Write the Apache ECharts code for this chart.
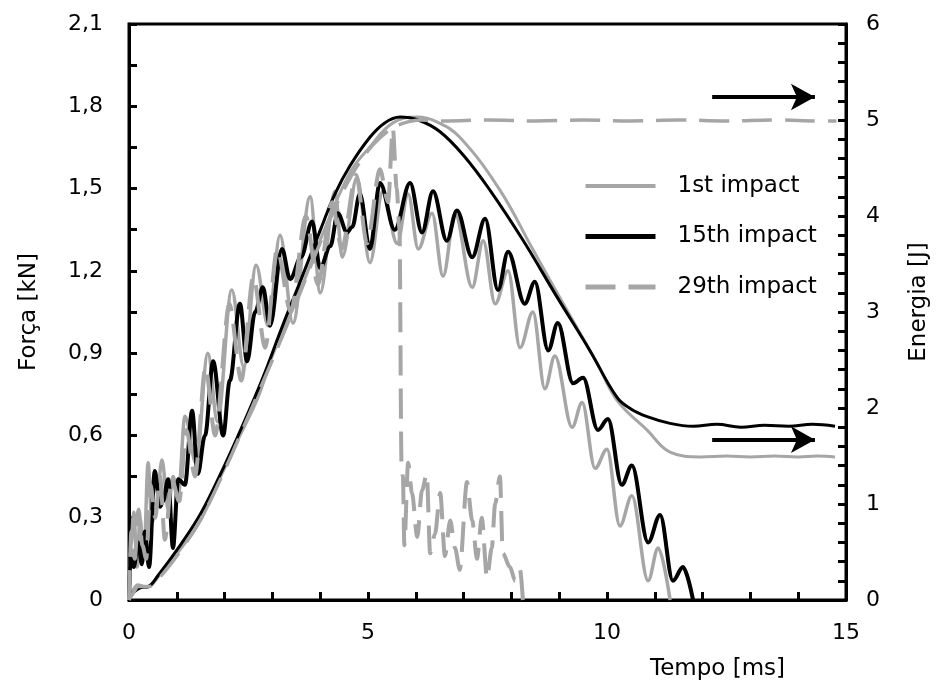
<!DOCTYPE html>
<html><head><meta charset="utf-8">
<script src="https://cdn.jsdelivr.net/npm/echarts@6/dist/echarts.min.js"></script>
<style>html,body{margin:0;padding:0;background:#fff}#c{width:943px;height:691px}</style>
</head><body><div id="c"></div>
<script>
// ---- data (time in ms, force in kN, energy in J) ----
const seriesNames = ['1st impact', '15th impact', '29th impact'];

const t1Force = [0, 0.04, 0.10, 0.17, 0.23, 0.31, 0.40, 0.48, 0.56, 0.69, 0.82, 0.92, 1.03, 1.17, 1.40, 1.65, 1.85, 2.15, 2.40, 2.66, 2.91, 3.16, 3.43, 3.79, 4.00, 4.31, 4.46, 4.77, 5.04, 5.31, 5.61, 5.84, 6.05, 6.34, 6.57, 6.82, 7.18, 7.41, 7.66, 7.93, 8.18, 8.45, 8.70, 8.91, 9.27, 9.48, 9.75, 10.00, 10.27, 10.52, 10.86, 11.07, 11.32];
const f1Force = [0, 0.2, 0.32, 0.12, 0.3, 0.15, 0.5, 0.28, 0.33, 0.51, 0.33, 0.45, 0.38, 0.67, 0.5, 0.90, 0.65, 1.13, 0.85, 1.22, 1.0, 1.33, 1.01, 1.47, 1.12, 1.49, 1.25, 1.54, 1.23, 1.49, 1.30, 1.48, 1.28, 1.41, 1.18, 1.41, 1.14, 1.31, 1.08, 1.20, 0.92, 1.05, 0.77, 0.89, 0.63, 0.72, 0.48, 0.55, 0.27, 0.38, 0.07, 0.19, 0];

const t15Force = [0, 0.04, 0.10, 0.19, 0.27, 0.33, 0.42, 0.54, 0.65, 0.71, 0.82, 0.92, 1.03, 1.17, 1.32, 1.44, 1.59, 1.76, 1.97, 2.11, 2.32, 2.47, 2.64, 2.80, 2.95, 3.20, 3.37, 3.60, 3.83, 4.00, 4.21, 4.37, 4.56, 4.67, 4.83, 5.04, 5.25, 5.56, 5.88, 6.13, 6.36, 6.65, 6.86, 7.18, 7.45, 7.72, 7.93, 8.28, 8.49, 8.77, 8.97, 9.29, 9.50, 9.81, 10.02, 10.31, 10.52, 10.86, 11.11, 11.38, 11.59, 11.80];
const f15Force = [0, 0.18, 0.12, 0.21, 0.13, 0.25, 0.12, 0.47, 0.34, 0.36, 0.44, 0.19, 0.44, 0.42, 0.69, 0.46, 0.6, 0.87, 0.60, 0.8, 1.08, 0.87, 1.05, 1.14, 1.0, 1.28, 1.17, 1.25, 1.38, 1.21, 1.29, 1.41, 1.34, 1.36, 1.48, 1.28, 1.52, 1.35, 1.52, 1.34, 1.49, 1.31, 1.42, 1.25, 1.39, 1.13, 1.27, 1.08, 1.16, 0.91, 1.01, 0.79, 0.81, 0.62, 0.66, 0.42, 0.49, 0.21, 0.31, 0.07, 0.12, 0];

const t29Force = [0, 0.05, 0.12, 0.2, 0.28, 0.36, 0.45, 0.55, 0.65, 0.75, 0.9, 1.05, 1.2, 1.38, 1.6, 1.8, 2.1, 2.35, 2.6, 2.85, 3.1, 3.38, 3.7, 3.95, 4.25, 4.45, 4.75, 4.98, 5.25, 5.42, 5.52, 5.6, 5.66, 5.7, 5.73, 5.76, 5.84, 5.92, 6.03, 6.13, 6.23, 6.30, 6.40, 6.51, 6.61, 6.72, 6.82, 6.92, 7.07, 7.18, 7.28, 7.38, 7.49, 7.59, 7.66, 7.76, 7.82, 7.97, 8.08, 8.18, 8.24];
const f29Force = [0, 0.25, 0.15, 0.33, 0.2, 0.15, 0.42, 0.3, 0.45, 0.22, 0.44, 0.36, 0.62, 0.45, 0.85, 0.6, 1.08, 0.8, 1.18, 0.92, 1.28, 1.05, 1.4, 1.15, 1.45, 1.28, 1.55, 1.3, 1.57, 1.45, 1.72, 1.5, 1.35, 0.5, 0.45, 0.2, 0.5, 0.39, 0.23, 0.40, 0.46, 0.17, 0.24, 0.39, 0.16, 0.29, 0.19, 0.11, 0.43, 0.29, 0.15, 0.30, 0.08, 0.19, 0.35, 0.45, 0.17, 0.12, 0.07, 0.11, 0];

const t1Energy = [0, 0.08, 0.19, 0.38, 0.61, 1.11, 1.53, 1.95, 2.28, 2.7, 2.99, 3.5, 4.0, 4.62, 5.04, 5.52, 6.03, 6.44, 6.92, 7.76, 8.45, 9.16, 9.79, 10.21, 10.84, 11.32, 11.95, 12.5, 13.0, 13.5, 14.0, 14.4, 14.77];
const e1Energy = [0, 0.1, 0.16, 0.13, 0.24, 0.55, 0.86, 1.32, 1.67, 2.11, 2.53, 3.12, 3.75, 4.45, 4.72, 4.97, 5.03, 4.98, 4.82, 4.27, 3.65, 3.02, 2.47, 2.08, 1.77, 1.54, 1.49, 1.5, 1.49, 1.5, 1.49, 1.5, 1.49];

const t15Energy = [0, 0.1, 0.25, 0.4, 0.6, 1.1, 1.5, 1.95, 2.36, 2.78, 3.2, 3.6, 4.0, 4.3, 4.62, 5.04, 5.35, 5.67, 6.05, 6.5, 7.0, 7.55, 8.24, 8.95, 9.64, 10.21, 10.5, 10.84, 11.32, 11.8, 12.3, 12.8, 13.3, 13.8, 14.3, 14.77];
const e15Energy = [0, 0.08, 0.13, 0.14, 0.25, 0.59, 0.9, 1.35, 1.8, 2.29, 2.84, 3.34, 3.85, 4.22, 4.52, 4.82, 4.97, 5.03, 5.0, 4.88, 4.63, 4.27, 3.75, 3.16, 2.6, 2.11, 1.99, 1.91, 1.84, 1.81, 1.83, 1.8, 1.82, 1.81, 1.83, 1.81];

const t29Energy = [0, 0.1, 0.2, 0.4, 0.65, 1.1, 1.5, 2.0, 2.5, 3.0, 3.5, 4.0, 4.5, 5.0, 5.4, 5.7, 6.1, 6.6, 7.5, 8.5, 9.5, 10.5, 11.5, 12.5, 13.5, 14.5, 14.8];
const e29Energy = [0, 0.08, 0.14, 0.14, 0.24, 0.53, 0.84, 1.35, 1.92, 2.5, 3.1, 3.72, 4.28, 4.68, 4.88, 4.96, 5.0, 4.99, 5.0, 4.99, 5.0, 4.99, 5.0, 4.99, 5.0, 4.99, 4.99];

// annotation arrows pointing to the energy axis
const arrowLevels = [5.24, 1.67];
const arrowSpan = [12.2, 14.35];

// ---- chart ----
const zip = (a, b) => a.map((v, i) => [v, b[i]]);
const GRAY = '#a6a6a6';
const DASH = [30, 13];
const FONT = 'DejaVu Sans';
const fmtComma = v => (v === 0 ? '0' : v.toFixed(1).replace('.', ','));

const axisCommon = {
  axisLine: { show: true, onZero: false, lineStyle: { color: '#000', width: 3 } },
  axisTick: { show: true, inside: true, length: 8, lineStyle: { color: '#000', width: 3 } },
  minorTick: { show: true, length: 8, lineStyle: { color: '#000', width: 3 } },
  splitLine: { show: false },
  minorSplitLine: { show: false }
};

const chart = echarts.init(document.getElementById('c'), null, { renderer: 'canvas' });
chart.setOption({
  animation: false,
  backgroundColor: '#fff',
  grid: { left: 129, right: 97, top: 24, bottom: 91, show: true, borderColor: '#000', borderWidth: 3, backgroundColor: 'transparent' },
  legend: {
    data: [
      { name: seriesNames[0], lineStyle: { color: GRAY, width: 4, type: 'solid' } },
      { name: seriesNames[1], lineStyle: { color: '#000', width: 5, type: 'solid' } },
      { name: seriesNames[2], lineStyle: { color: GRAY, width: 5, type: DASH } }
    ],
    orient: 'vertical',
    left: 583, top: 171, padding: 0,
    itemWidth: 70, itemHeight: 14, itemGap: 20.5,
    selectedMode: false,
    itemStyle: { color: 'rgba(0,0,0,0)', borderWidth: 0, opacity: 0 },
    textStyle: { color: '#000', fontFamily: FONT, fontSize: 23, lineHeight: 30, padding: [0, 0, 0, 17] }
  },
  xAxis: Object.assign({}, axisCommon, {
    type: 'value', min: 0, max: 15, interval: 5,
    minorTick: Object.assign({}, axisCommon.minorTick, { splitNumber: 5 }),
    axisLabel: { margin: 22, color: '#000', fontFamily: FONT, fontSize: 22 },
    name: 'Tempo [ms]', nameLocation: 'middle', nameGap: 58,
    nameTextStyle: { color: '#000', fontFamily: FONT, fontSize: 23, padding: [0, 0, 0, 460] }
  }),
  yAxis: [
    Object.assign({}, axisCommon, {
      type: 'value', min: 0, max: 2.1, interval: 0.3, position: 'left',
      minorTick: Object.assign({}, axisCommon.minorTick, { splitNumber: 2 }),
      axisLabel: { margin: 26, color: '#000', fontFamily: FONT, fontSize: 22, formatter: fmtComma },
      name: 'Força [kN]', nameLocation: 'middle', nameGap: 88, nameRotate: 90,
      nameTextStyle: { color: '#000', fontFamily: FONT, fontSize: 23 }
    }),
    Object.assign({}, axisCommon, {
      type: 'value', min: 0, max: 6, interval: 1, position: 'right',
      minorTick: Object.assign({}, axisCommon.minorTick, { splitNumber: 5 }),
      axisLabel: { margin: 20, color: '#000', fontFamily: FONT, fontSize: 22 },
      name: 'Energia [J]', nameLocation: 'middle', nameGap: 62, nameRotate: 90,
      nameTextStyle: { color: '#000', fontFamily: FONT, fontSize: 23, padding: [0, 0, 0, 20] }
    })
  ],
  series: [
    { name: seriesNames[0], type: 'line', yAxisIndex: 0, showSymbol: false, symbol: 'none', smooth: 0.35, smoothMonotone: 'x',
      lineStyle: { color: GRAY, width: 3.5 }, itemStyle: { color: GRAY }, data: zip(t1Force, f1Force), z: 2 },
    { name: seriesNames[0], type: 'line', yAxisIndex: 1, showSymbol: false, symbol: 'none', smooth: 0.4,
      lineStyle: { color: GRAY, width: 3 }, itemStyle: { color: GRAY }, data: zip(t1Energy, e1Energy), z: 2 },
    { name: seriesNames[1], type: 'line', yAxisIndex: 0, showSymbol: false, symbol: 'none', smooth: 0.35, smoothMonotone: 'x',
      lineStyle: { color: '#000', width: 4 }, itemStyle: { color: '#000' }, data: zip(t15Force, f15Force), z: 3 },
    { name: seriesNames[1], type: 'line', yAxisIndex: 1, showSymbol: false, symbol: 'none', smooth: 0.4,
      lineStyle: { color: '#000', width: 3 }, itemStyle: { color: '#000' }, data: zip(t15Energy, e15Energy), z: 3,
      markLine: {
        silent: true, animation: false,
        symbol: ['none', 'arrow'], symbolSize: [20, 24],
        label: { show: false },
        lineStyle: { color: '#000', width: 4, type: 'solid' },
        data: arrowLevels.map(l => [{ coord: [arrowSpan[0], l] }, { coord: [arrowSpan[1], l] }])
      } },
    { name: seriesNames[2], type: 'line', yAxisIndex: 0, showSymbol: false, symbol: 'none', smooth: 0.3, smoothMonotone: 'x',
      lineStyle: { color: GRAY, width: 4, type: DASH }, itemStyle: { color: GRAY }, data: zip(t29Force, f29Force), z: 4 },
    { name: seriesNames[2], type: 'line', yAxisIndex: 1, showSymbol: false, symbol: 'none', smooth: 0.4,
      lineStyle: { color: GRAY, width: 3.5, type: DASH }, itemStyle: { color: GRAY }, data: zip(t29Energy, e29Energy), z: 4 }
  ]
});
</script></body></html>
